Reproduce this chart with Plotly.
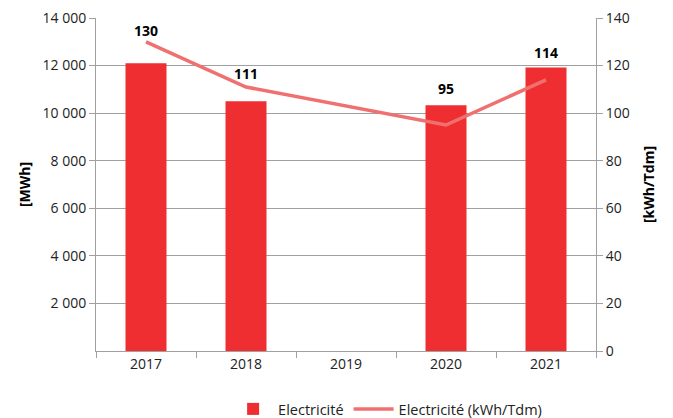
import plotly.graph_objects as go

years = ["2017", "2018", "2019", "2020", "2021"]
mwh = [12100, 10500, None, 10330, 11920]
kwh_tdm = [130, 111, None, 95, 114]
left_tickvals = [2000, 4000, 6000, 8000, 10000, 12000, 14000]
left_ticktext = ["2 000", "4 000", "6 000", "8 000", "10 000", "12 000", "14 000"]
right_tickvals = [0, 20, 40, 60, 80, 100, 120, 140]

# label offsets in pixels (styling, not data)
label_yshift = [0, 2, 0, 25, 16]

FONT = "Open Sans"
bar_color = "#EE2E31"
line_color = "#F07070"

fig = go.Figure()
fig.add_trace(go.Bar(
    x=years, y=mwh, name="Electricité", marker=dict(color=bar_color, line=dict(width=0)),
    width=0.41, yaxis="y",
))
fig.add_trace(go.Scatter(
    x=years, y=kwh_tdm, name="Electricité (kWh/Tdm)", mode="lines",
    line=dict(color=line_color, width=3.5), connectgaps=True,
    yaxis="y2",
))

for i, (v, sh) in enumerate(zip(kwh_tdm, label_yshift)):
    if v is None:
        continue
    fig.add_annotation(
        x=i, y=v, xref="x", yref="y2", text=f"<b>{v}</b>", showarrow=False,
        yshift=sh, yanchor="bottom",
        font=dict(family=FONT, size=14, color="#000000"),
    )

fig.update_layout(
    width=665, height=410,
    margin=dict(l=88, r=77, t=10, b=67, autoexpand=False),
    paper_bgcolor="white", plot_bgcolor="white",
    font=dict(family=FONT, size=14, color="#222222"),
    showlegend=True,
    legend=dict(orientation="h", x=0.331, y=0.022, xref="container", yref="container",
                xanchor="left", yanchor="middle",
                font=dict(family=FONT, size=14.5, color="#222222"),
                itemwidth=40, tracegroupgap=0),
    xaxis=dict(
        type="category", showgrid=False, showline=True, linecolor="#A0A0A0", linewidth=1,
        ticks="outside", tickson="boundaries", ticklen=6, tickcolor="#A0A0A0",
        tickfont=dict(size=14, color="#222222"), zeroline=False, automargin=False,
        range=[-0.5, 4.5],
    ),
    yaxis=dict(
        range=[0, 14000.5], tickvals=left_tickvals, ticktext=left_ticktext,
        showgrid=True, gridcolor="#A0A0A0", gridwidth=1,
        showline=True, linecolor="#A0A0A0", linewidth=1,
        ticks="outside", ticklen=6, tickcolor="#A0A0A0", ticklabeloverflow="allow",
        tickfont=dict(size=14, color="#222222"), zeroline=False, automargin=False,
        title=dict(text="<b>[MWh]</b>", font=dict(size=14, color="#000000"), standoff=8),
    ),
    yaxis2=dict(
        range=[0, 140.005], tickvals=right_tickvals, overlaying="y", side="right",
        showgrid=False, showline=True, linecolor="#A0A0A0", linewidth=1,
        ticks="outside", ticklen=6, tickcolor="#A0A0A0", ticklabeloverflow="allow",
        tickfont=dict(size=14, color="#222222"), zeroline=False, automargin=False,
        title=dict(text="<b>[kWh/Tdm]</b>", font=dict(size=14, color="#000000"), standoff=15),
    ),
    bargap=0.59,
)

fig.write_html("out.html")
